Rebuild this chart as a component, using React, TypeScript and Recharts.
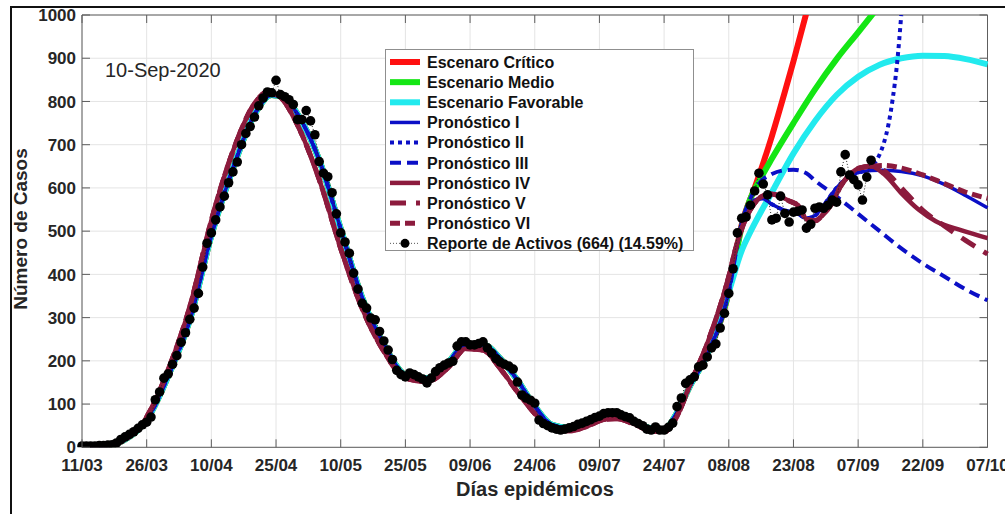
import { CartesianGrid, Legend, Line, LineChart, ReferenceLine, XAxis, YAxis } from "recharts";

type Punto = [number, number];

// Eje X: días desde el 11/03/2020
const diasTicks = [0, 15, 30, 45, 60, 75, 90, 105, 120, 135, 150, 165, 180, 195, 210];
const etiquetasFecha = [
  "11/03", "26/03", "10/04", "25/04", "10/05", "25/05", "09/06", "24/06",
  "09/07", "24/07", "08/08", "23/08", "07/09", "22/09", "07/10",
];
const ticksCasos = [0, 100, 200, 300, 400, 500, 600, 700, 800, 900, 1000];

// Casos activos reportados, un valor por día (día 0 = 11/03)
const reporteActivos = [
  3, 3, 3, 3, 4, 4, 5, 6, 10, 18,
  24, 30, 36, 44, 52, 58, 70, 110, 128, 160,
  170, 192, 212, 243, 265, 296, 322, 356, 417, 472,
  496, 526, 556, 581, 612, 637, 660, 700, 726, 742,
  764, 790, 808, 822, 820, 849, 816, 811, 804, 793,
  758, 758, 779, 755, 723, 661, 634, 626, 589, 540,
  496, 475, 449, 403, 366, 333, 322, 299, 295, 268,
  246, 225, 203, 178, 168, 163, 172, 168, 163, 158,
  149, 160, 175, 184, 190, 195, 199, 234, 244, 244,
  237, 237, 240, 244, 230, 218, 205, 197, 192, 188,
  181, 151, 121, 114, 109, 102, 63, 55, 50, 45,
  42, 40, 42, 45, 48, 53, 56, 60, 64, 69,
  72, 78, 80, 80, 80, 75, 71, 68, 60, 55,
  50, 42, 40, 47, 40, 40, 46, 56, 94, 114,
  148, 156, 163, 186, 190, 209, 230, 239, 276, 310,
  356, 413, 496, 530, 533, 560, 593, 634, 609, 584,
  526, 530, 581, 541, 521, 544, 546, 549, 507, 516,
  553, 556, 553, 560, 572, 567, 637, 677, 630, 619,
  607, 572, 625, 664,
];

// Ajustes sobre el histórico (hasta el 08/08)
const ajusteAzul: Punto[] = [
  [0, 1], [5, 3], [8, 8], [10, 18], [13, 40], [16, 80], [20, 165], [25, 295],
  [30, 490], [35, 645], [40, 770], [44, 815], [47, 808], [50, 770], [55, 665],
  [60, 505], [65, 345], [70, 238], [75, 168], [80, 160], [85, 198], [89, 238],
  [93, 238], [97, 205], [101, 155], [105, 95], [109, 52], [113, 45], [117, 58],
  [121, 74], [124, 76], [128, 62], [132, 44], [135, 42], [138, 80], [141, 142],
  [145, 215], [150, 360],
];
const ajusteGrana: Punto[] = [
  [0, 1], [5, 3], [8, 8], [10, 18], [13, 42], [16, 88], [20, 180], [25, 325],
  [30, 525], [35, 685], [40, 795], [43, 822], [46, 810], [50, 745], [55, 620],
  [60, 460], [65, 320], [70, 222], [75, 160], [80, 152], [85, 185], [89, 228],
  [93, 225], [97, 182], [101, 128], [105, 78], [109, 42], [113, 38], [117, 48],
  [121, 64], [124, 66], [128, 54], [132, 38], [135, 36], [138, 72], [141, 145],
  [145, 240], [150, 395],
];

// Escenarios
const escenarioCritico: Punto[] = [
  [153, 515], [156, 600], [158, 658], [160, 720], [163, 822], [165, 893], [168, 1005],
];
const escenarioMedio: Punto[] = [
  [153, 510], [155, 575], [157, 615], [160, 668], [165, 750], [170, 828],
  [175, 898], [180, 960], [184, 1010],
];
const escenarioFavorable: Punto[] = [
  [153, 455], [155, 498], [160, 590], [165, 680], [170, 755], [175, 815],
  [180, 857], [185, 885], [190, 900], [195, 906], [200, 905], [205, 898], [210, 886],
];

// Pronósticos
const pronosticoI: Punto[] = [
  [152, 470], [154, 535], [156, 572], [158, 575], [160, 562], [163, 548], [166, 540],
  [168, 530], [170, 536], [172, 560], [175, 600], [178, 627], [181, 638], [185, 641],
  [190, 638], [195, 628], [200, 608], [205, 582], [210, 554],
];
const colaII: Punto[] = [
  [183, 648], [184, 660], [185, 678], [186, 705], [187, 745], [188, 805], [189, 885], [190, 1000],
];
const pronosticoIII: Punto[] = [
  [153, 520], [155, 575], [157, 610], [160, 632], [163, 641], [165, 642], [168, 634],
  [170, 617], [175, 580], [180, 540], [185, 500], [190, 460], [195, 425], [200, 395],
  [205, 365], [210, 340],
];
const tramoGrana: Punto[] = [
  [152, 475], [154, 530], [156, 565], [158, 582], [160, 586], [162, 580], [164, 570],
  [166, 560], [168, 528], [170, 524], [172, 540], [174, 565], [176, 605], [178, 630],
  [180, 645], [183, 650],
];
const colaIV: Punto[] = [[186, 632], [190, 588], [194, 550], [198, 523], [204, 502], [210, 484]];
const colaV: Punto[] = [[186, 640], [190, 600], [195, 548], [200, 512], [205, 478], [210, 447]];
const colaVI: Punto[] = [[186, 652], [190, 646], [195, 630], [200, 610], [205, 590], [210, 576]];

const ANCHO = 1005;
const ALTO = 514;
const AREA = { izq: 82, der: 987.5, sup: 15, inf: 447.3 };
const COLOR_EJE = "#5e5e5e";
const COLOR_TEXTO = "#262626";
const FUENTE = "'Liberation Sans', Arial, sans-serif";

const AZUL = "#0b0fc6";
const GRANA = "#8c1b3d";

const aDatos = (...tramos: Punto[][]) =>
  tramos.flat().map(([d, v]) => ({ d, v }));

const series = [
  { nombre: "Escenaro Crítico", color: "#ff1010", ancho: 6, trazo: undefined, datos: aDatos(ajusteAzul, escenarioCritico) },
  { nombre: "Escenario Medio", color: "#14e614", ancho: 6, trazo: undefined, datos: aDatos(ajusteAzul, escenarioMedio) },
  { nombre: "Escenario Favorable", color: "#22eaee", ancho: 6, trazo: undefined, datos: aDatos(ajusteAzul, escenarioFavorable) },
  { nombre: "Pronóstico I", color: AZUL, ancho: 3.5, trazo: undefined, datos: aDatos(ajusteAzul, pronosticoI) },
  { nombre: "Pronóstico II", color: AZUL, ancho: 4, trazo: "4 4", datos: aDatos(ajusteAzul, pronosticoI.filter(([d]) => d <= 181), colaII) },
  { nombre: "Pronóstico III", color: AZUL, ancho: 4, trazo: "11 6", datos: aDatos(ajusteAzul, pronosticoIII) },
  { nombre: "Pronóstico IV", color: GRANA, ancho: 4.5, trazo: undefined, datos: aDatos(ajusteGrana, tramoGrana, colaIV) },
  { nombre: "Pronóstico V", color: GRANA, ancho: 5, trazo: "16 10", datos: aDatos(ajusteGrana, tramoGrana, colaV) },
  { nombre: "Pronóstico VI", color: GRANA, ancho: 5, trazo: "10 5", datos: aDatos(ajusteGrana, tramoGrana, colaVI) },
];

const datosReporte = reporteActivos.map((v, d) => ({ d, v }));

const TickFecha = (props: any) => {
  const { x, y, payload } = props;
  const i = diasTicks.indexOf(payload.value);
  return (
    <g>
      <line x1={x} x2={x} y1={y} y2={y - 8} stroke={COLOR_EJE} />
      <line x1={x} x2={x} y1={AREA.sup} y2={AREA.sup + 8} stroke={COLOR_EJE} />
      <text x={x} y={y + 18} dy="0.36em" textAnchor="middle" fontSize={17} fontWeight="bold" fontFamily={FUENTE} fill={COLOR_TEXTO}>
        {etiquetasFecha[i]}
      </text>
    </g>
  );
};

const TickCasos = (props: any) => {
  const { x, y, payload } = props;
  return (
    <g>
      <line x1={x} x2={x + 8} y1={y} y2={y} stroke={COLOR_EJE} />
      <line x1={AREA.der} x2={AREA.der - 8} y1={y} y2={y} stroke={COLOR_EJE} />
      <text x={x - 6} y={y} dy="0.36em" textAnchor="end" fontSize={17} fontWeight="bold" fontFamily={FUENTE} fill={COLOR_TEXTO}>
        {payload.value}
      </text>
    </g>
  );
};

function Leyenda() {
  const fila = 20.15;
  const yReporte = 12 + 9 * fila;
  return (
    <div style={{ width: 309, height: 202, boxSizing: "border-box", border: "1px solid #8f8f8f", background: "#fff" }}>
      <svg width={307} height={200} style={{ display: "block", overflow: "visible" }}>
        {series.map((s, i) => {
          const y = 12 + i * fila;
          return (
            <g key={s.nombre}>
              <line x1={4} x2={34} y1={y} y2={y} stroke={s.color} strokeWidth={s.ancho} strokeDasharray={s.trazo} />
              <text x={41} y={y} dy="0.36em" fontSize={16} fontWeight="bold" fontFamily={FUENTE} fill="#111">
                {s.nombre}
              </text>
            </g>
          );
        })}
        <line x1={4} x2={34} y1={yReporte} y2={yReporte} stroke="#555" strokeWidth={1} strokeDasharray="1 2" />
        <circle cx={19} cy={yReporte} r={4.5} fill="#000" />
        <text x={41} y={yReporte} dy="0.36em" fontSize={16} fontWeight="bold" fontFamily={FUENTE} fill="#111">
          Reporte de Activos (664) (14.59%)
        </text>
      </svg>
    </div>
  );
}

export default function App() {
  return (
    <div style={{ position: "absolute", left: 0, top: 0, width: ANCHO, height: ALTO, background: "#fff", overflow: "hidden", fontFamily: FUENTE }}>
      <div style={{ position: "absolute", left: 10, top: 6, width: 1010, height: 530, border: "2px solid #111" }} />
      <div style={{ position: "absolute", left: 0, top: 0 }}>
        <LineChart width={ANCHO} height={ALTO} margin={{ top: AREA.sup, right: ANCHO - AREA.der, left: 0, bottom: 0 }}>
          <CartesianGrid stroke="#e4e4e4" />
          <XAxis
            dataKey="d"
            type="number"
            domain={[0, 210]}
            ticks={diasTicks}
            interval={0}
            height={ALTO - AREA.inf}
            tickSize={0}
            tickMargin={0}
            tick={<TickFecha />}
            axisLine={{ stroke: COLOR_EJE }}
          />
          <YAxis
            type="number"
            domain={[0, 1000]}
            ticks={ticksCasos}
            interval={0}
            allowDataOverflow
            width={AREA.izq}
            tickSize={0}
            tickMargin={0}
            tick={<TickCasos />}
            axisLine={{ stroke: COLOR_EJE }}
          />
          <ReferenceLine y={1000} stroke={COLOR_EJE} />
          <ReferenceLine x={210} stroke={COLOR_EJE} />
          {series.map((s) => (
            <Line
              key={s.nombre}
              data={s.datos}
              dataKey="v"
              type="monotone"
              stroke={s.color}
              strokeWidth={s.ancho}
              strokeDasharray={s.trazo}
              dot={false}
              activeDot={false}
              isAnimationActive={false}
            />
          ))}
          <Line
            data={datosReporte}
            dataKey="v"
            type="linear"
            stroke="#222"
            strokeWidth={1}
            strokeDasharray="1 2"
            dot={{ r: 4.8, fill: "#000", stroke: "#000", strokeWidth: 0 }}
            activeDot={false}
            isAnimationActive={false}
          />
          <Legend
            layout="vertical"
            align="center"
            verticalAlign="middle"
            content={() => <Leyenda />}
            wrapperStyle={{ left: 385, top: 49, width: 309, height: 202 }}
          />
        </LineChart>
      </div>
      <div style={{ position: "absolute", left: 105, top: 59, fontSize: 20, color: COLOR_TEXTO, whiteSpace: "nowrap" }}>
        10-Sep-2020
      </div>
      <div
        style={{
          position: "absolute",
          left: 21,
          top: 229,
          transform: "translate(-50%, -50%) rotate(-90deg)",
          fontSize: 19,
          fontWeight: "bold",
          color: COLOR_TEXTO,
          whiteSpace: "nowrap",
        }}
      >
        Número de Casos
      </div>
      <div
        style={{
          position: "absolute",
          left: 535,
          top: 489,
          transform: "translate(-50%, -50%)",
          fontSize: 20,
          fontWeight: "bold",
          color: COLOR_TEXTO,
          whiteSpace: "nowrap",
        }}
      >
        Días epidémicos
      </div>
    </div>
  );
}
